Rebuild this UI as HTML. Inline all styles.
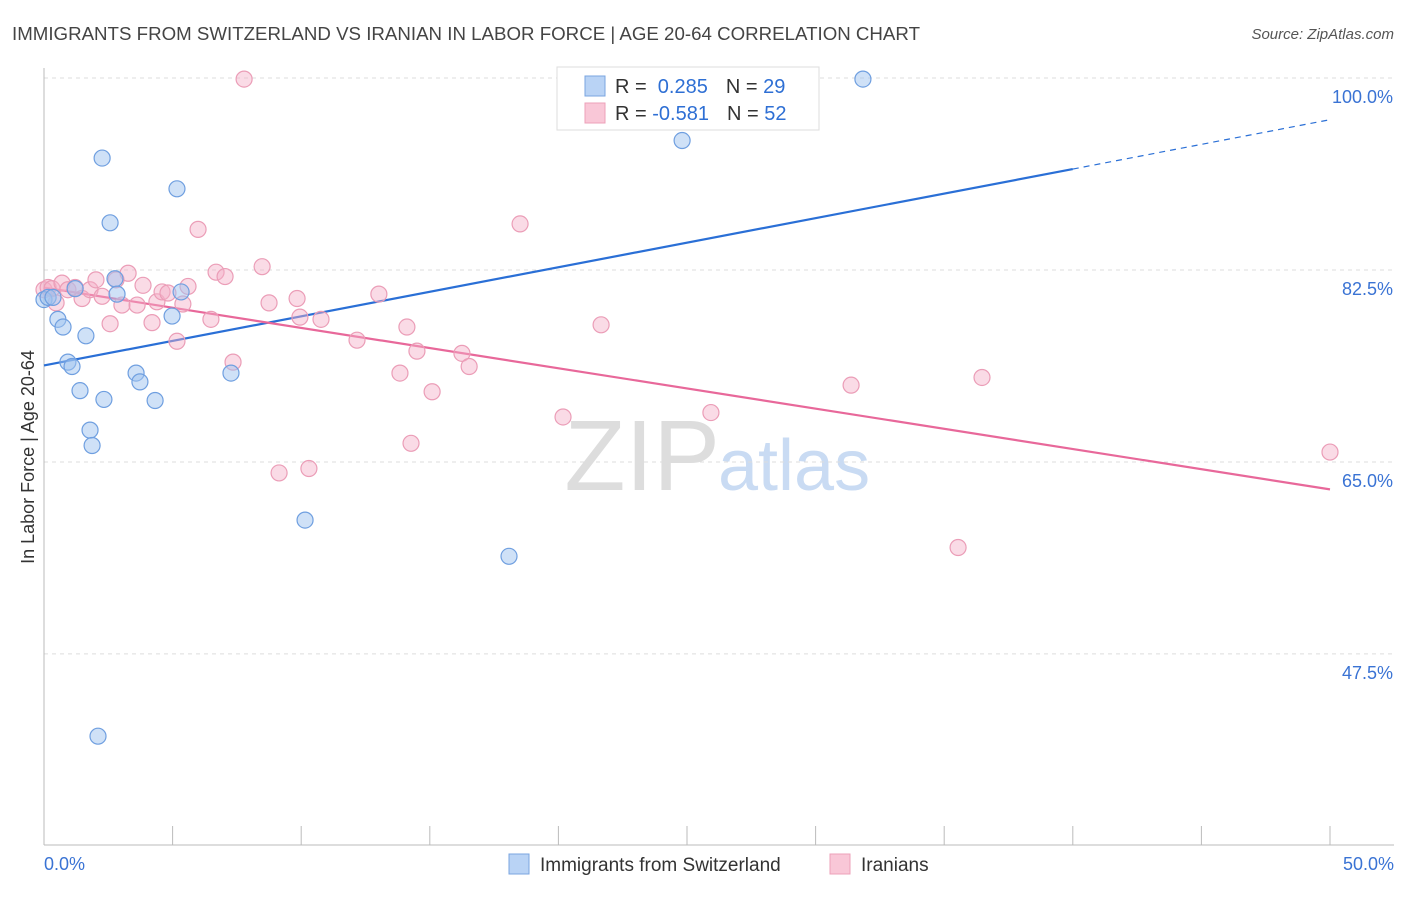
<!DOCTYPE html>
<html><head><meta charset="utf-8"><style>
body{margin:0;background:#fff;font-family:"Liberation Sans",sans-serif}
svg text{font-family:"Liberation Sans",sans-serif}
</style></head><body>
<svg id="c" width="1406" height="892">
<text x="12" y="40" font-size="18" fill="#444" textLength="908" lengthAdjust="spacingAndGlyphs">IMMIGRANTS FROM SWITZERLAND VS IRANIAN IN LABOR FORCE | AGE 20-64 CORRELATION CHART</text>
<text x="1394" y="39" font-size="15" fill="#555" text-anchor="end" font-style="italic">Source: ZipAtlas.com</text>
<text x="720" y="490" font-size="100" fill="#ddd" text-anchor="end" font-family="Liberation Serif">ZIP</text>
<text x="718" y="490" font-size="72" fill="#c9dbf3">atlas</text>
<text transform="translate(34,457) rotate(-90)" font-size="18" fill="#333" text-anchor="middle">In Labor Force | Age 20-64</text>
<g id="grid"></g><g id="axes"></g><g id="lines"></g><g id="pts"></g>
<g>
<rect x="557" y="67" width="262" height="63" fill="#fff" stroke="#ddd"/>
<rect x="585" y="76" width="20" height="20" fill="#b9d3f5" stroke="#7aa5e0"/>
<rect x="585" y="103" width="20" height="20" fill="#f9c7d7" stroke="#eda0b9"/>
<text x="615" y="93" font-size="20" fill="#333">R = <tspan fill="#2e6fd4">&#160;0.285</tspan><tspan dx="18">N = </tspan><tspan fill="#2e6fd4">29</tspan></text>
<text x="615" y="120" font-size="20" fill="#333">R = <tspan fill="#2e6fd4">-0.581</tspan><tspan dx="18">N = </tspan><tspan fill="#2e6fd4">52</tspan></text>
</g>
<g>
<rect x="509" y="854" width="20" height="20" fill="#b9d3f5" stroke="#7aa5e0"/>
<text x="540" y="871" font-size="19" fill="#333">Immigrants from Switzerland</text>
<rect x="830" y="854" width="20" height="20" fill="#f9c7d7" stroke="#eda0b9"/>
<text x="861" y="871" font-size="19" fill="#333">Iranians</text>
</g>
</svg>
<script>
const blueX=[0,0.16,0.35,0.54,0.74,0.93,1.09,1.21,1.40,1.63,1.79,1.87,2.26,2.33,2.57,2.76,2.84,3.58,3.73,4.32,4.98,5.17,5.33,7.27,10.15,18.08,24.81,31.84,2.10];
const blueY=[79.8,80.0,80.0,78.0,77.3,74.1,73.7,80.8,71.5,76.5,67.9,66.5,92.7,70.7,86.8,81.7,80.3,73.1,72.3,70.6,78.3,89.9,80.5,73.1,59.7,56.4,94.3,99.9,40.0];
const pinkX=[0,0.16,0.31,0.47,0.70,0.93,1.21,1.48,1.79,2.02,2.26,2.57,2.80,3.03,3.27,3.62,3.85,4.20,4.39,4.59,4.82,5.17,5.40,5.60,5.99,6.49,6.69,7.04,7.35,7.78,8.48,8.75,9.14,9.84,9.95,10.30,10.77,12.17,13.02,13.84,14.11,14.27,14.50,15.09,16.25,16.53,18.51,20.18,21.66,25.93,31.38,35.54,36.47,50.0];
const pinkY=[80.7,80.9,80.8,79.5,81.3,80.7,80.9,79.9,80.7,81.6,80.1,77.6,81.6,79.3,82.2,79.3,81.1,77.7,79.6,80.5,80.4,76.0,79.4,81.0,86.2,78.0,82.3,81.9,74.1,99.9,82.8,79.5,64.0,79.9,78.2,64.4,78.0,76.1,80.3,73.1,77.3,66.7,75.1,71.4,74.9,73.7,86.7,69.1,77.5,69.5,72.0,57.2,72.7,65.9];
const yTicks=[100,82.5,65,47.5];
const yTickLabels=["100.0%","82.5%","65.0%","47.5%"];
const xTicks=[0,5,10,15,20,25,30,35,40,45,50];
const blueTrend=[73.8,91.7,96.2]; const blueTrendX=[0,40,50];
const pinkTrend=[80.9,62.5]; const pinkTrendX=[0,50];
const X=v=>44+v*25.72, Y=v=>78+(100-v)*10.97;
const NS="http://www.w3.org/2000/svg";
function mk(t,p,a){const e=document.createElementNS(NS,t);for(const k in a)e.setAttribute(k,a[k]);p.appendChild(e);return e;}
const g=document.getElementById('grid'),ax=document.getElementById('axes'),ln=document.getElementById('lines'),pt=document.getElementById('pts');
yTicks.forEach((v,i)=>{
 const l=mk('line',g,{x1:44,x2:1394,y1:Y(v),y2:Y(v),stroke:'#ddd','stroke-dasharray':'4,4'});
 
 
 const t=mk('text',g,{x:1393,y:Y(v)+25,'font-size':18,fill:'#3a73d4','text-anchor':'end'});t.textContent=yTickLabels[i];
 
 
});
mk('line',ax,{x1:44,x2:44,y1:68,y2:845,stroke:'#bbb'});
mk('line',ax,{x1:44,x2:1394,y1:845,y2:845,stroke:'#bbb'});
xTicks.forEach(v=>{const l=mk('line',ax,{x1:X(v),x2:X(v),y1:826,y2:845,stroke:'#bbb'});
 
 });
let t=mk('text',ax,{x:44,y:870,'font-size':18,fill:'#3a73d4'});t.textContent='0.0%';


t=mk('text',ax,{x:1394,y:870,'font-size':18,fill:'#3a73d4','text-anchor':'end'});t.textContent='50.0%';


let l=mk('line',ln,{x1:X(blueTrendX[0]),y1:Y(blueTrend[0]),x2:X(blueTrendX[1]),y2:Y(blueTrend[1]),stroke:'#2a6fd6','stroke-width':2.2});


l=mk('line',ln,{x1:X(blueTrendX[1]),y1:Y(blueTrend[1]),x2:X(blueTrendX[2]),y2:Y(blueTrend[2]),stroke:'#2a6fd6','stroke-width':1.2,'stroke-dasharray':'6,5'});


l=mk('line',ln,{x1:X(pinkTrendX[0]),y1:Y(pinkTrend[0]),x2:X(pinkTrendX[1]),y2:Y(pinkTrend[1]),stroke:'#e8689a','stroke-width':2.2});


pinkX.forEach((v,i)=>{const c=mk('circle',pt,{cx:X(v),cy:Y(pinkY[i]),r:8,fill:'rgba(245,176,200,0.45)',stroke:'#eb9db7','stroke-width':1.2});
 
 });
blueX.forEach((v,i)=>{const c=mk('circle',pt,{cx:X(v),cy:Y(blueY[i]),r:8,fill:'rgba(160,195,240,0.5)',stroke:'#6f9fe0','stroke-width':1.2});
 
 });
</script>
</body></html>
